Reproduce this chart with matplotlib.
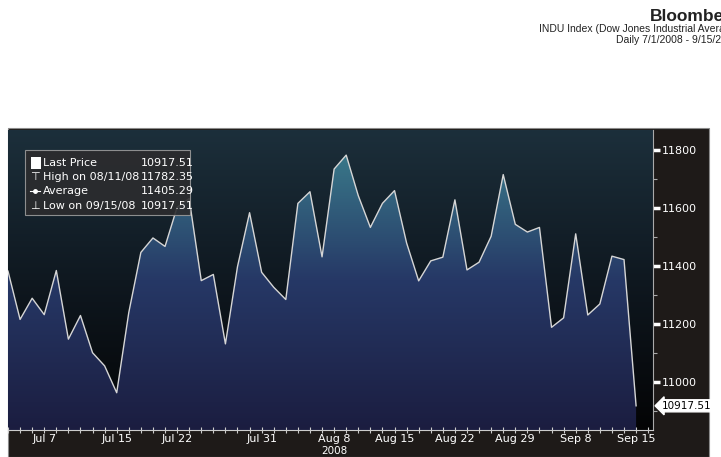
import numpy as np
import matplotlib
matplotlib.use("Agg")
import matplotlib.pyplot as plt
from matplotlib.patches import Polygon, Rectangle
from matplotlib.colors import LinearSegmentedColormap

# Dow Jones, cours de clôture journaliers 1/7/2008 - 15/9/2008
dates = ["07/01", "07/02", "07/03", "07/07", "07/08", "07/09", "07/10", "07/11",
         "07/14", "07/15", "07/16", "07/17", "07/18", "07/21", "07/22", "07/23",
         "07/24", "07/25", "07/28", "07/29", "07/30", "07/31",
         "08/01", "08/04", "08/05", "08/06", "08/07", "08/08", "08/11", "08/12",
         "08/13", "08/14", "08/15", "08/18", "08/19", "08/20", "08/21", "08/22",
         "08/25", "08/26", "08/27", "08/28", "08/29",
         "09/02", "09/03", "09/04", "09/05", "09/08", "09/09", "09/10", "09/11",
         "09/12", "09/15"]
closes = [11382.26, 11215.51, 11288.53, 11231.96, 11384.21, 11147.44, 11229.02, 11100.54,
          11055.19, 10962.54, 11239.28, 11446.66, 11496.57, 11467.34, 11602.50, 11632.38,
          11349.28, 11370.69, 11131.08, 11397.56, 11583.69, 11378.02,
          11326.32, 11284.15, 11615.77, 11656.07, 11431.43, 11734.32, 11782.35, 11642.47,
          11532.96, 11615.93, 11659.90, 11479.39, 11348.55, 11417.43, 11430.21, 11628.06,
          11386.25, 11412.87, 11502.51, 11715.18, 11543.55,
          11516.92, 11532.88, 11188.23, 11220.96, 11510.74, 11230.73, 11268.92, 11433.71,
          11421.99, 10917.51]
tick_dates = ["07/07", "07/15", "07/22", "07/31", "08/08", "08/15", "08/22", "08/29", "09/08", "09/15"]
tick_labels = ["Jul 7", "Jul 15", "Jul 22", "Jul 31", "Aug 8", "Aug 15", "Aug 22", "Aug 29", "Sep 8", "Sep 15"]
y_ticks = [11000, 11200, 11400, 11600, 11800]

legend_rows = [("Last Price", "10917.51"), ("High on 08/11/08", "11782.35"),
               ("Average", "11405.29"), ("Low on 09/15/08", "10917.51")]

W, H = 721, 457
fig = plt.figure(figsize=(W / 100, H / 100), dpi=100)
fig.patch.set_facecolor("white")

def fx(px):
    return px / W

def fy(py):
    return 1 - py / H

# fond sombre du graphique
fig.patches.append(Rectangle((fx(8), 0), fx(709) - fx(8), fy(128), transform=fig.transFigure,
                             facecolor="#1e1a18", edgecolor="#8a8a8a", lw=0.8, zorder=-5))

ax = fig.add_axes([fx(8), fy(430), fx(653) - fx(8), fy(130) - fy(430)])
ax.set_facecolor("none")

x = np.arange(len(closes))
xmax = 53.4
ymin, ymax = 10834, 11869

bg_cmap = LinearSegmentedColormap.from_list("bg", ["#040405", "#0f1820", "#1c2f3b"])
fill_cmap = LinearSegmentedColormap.from_list("fl", ["#1b1d40", "#263866", "#3d8490"])
grad = np.linspace(0, 1, 256).reshape(-1, 1)

ax.imshow(grad, cmap=bg_cmap, origin="lower", aspect="auto",
          extent=[0, xmax, ymin, ymax], zorder=0)
im = ax.imshow(grad, cmap=fill_cmap, origin="lower", aspect="auto",
               extent=[0, xmax, ymin, ymax], zorder=1)
verts = [(0, ymin)] + list(zip(x, closes)) + [(x[-1], ymin)]
poly = Polygon(verts, closed=True, facecolor="none", edgecolor="none", transform=ax.transData)
ax.add_patch(poly)
im.set_clip_path(poly)

ax.plot(x, closes, color="#d6d6d6", lw=1.0, zorder=3)

ax.set_xlim(0, xmax)
ax.set_ylim(ymin, ymax)

# axe x
ax.set_xticks(np.arange(0, 54))
ax.set_xticklabels([])
ax.tick_params(axis="x", direction="inout", length=4, width=0.8, color="#cccccc")
for d, lab in zip(tick_dates, tick_labels):
    i = dates.index(d)
    ax.text(i, -0.03, lab, transform=ax.get_xaxis_transform(), ha="center", va="center",
            color="white", fontsize=8)
ax.text(dates.index("08/08"), -0.07, "2008", transform=ax.get_xaxis_transform(),
        ha="center", va="center", color="white", fontsize=7.5)

# axe y à droite
ax.yaxis.tick_right()
ax.set_yticks(y_ticks)
ax.set_yticklabels([str(v) for v in y_ticks], color="white", fontsize=8)
ax.set_yticks(np.arange(10900, 11900, 200), minor=True)
ax.tick_params(axis="y", which="major", direction="out", length=5, width=2.5, color="white", pad=1)
ax.tick_params(axis="y", which="minor", direction="out", length=3, width=0.8, color="#aaaaaa")

for s in ["top", "left"]:
    ax.spines[s].set_visible(False)
ax.spines["bottom"].set_color("#cccccc")
ax.spines["right"].set_color("#aaaaaa")

# étiquette du dernier prix
ax.annotate(f"{closes[-1]:.2f}", xy=(1.0, closes[-1]), xycoords=("axes fraction", "data"),
            xytext=(1.013, closes[-1]), textcoords=("axes fraction", "data"),
            ha="left", va="center", fontsize=7.5, color="black",
            bbox=dict(boxstyle="larrow,pad=0.1", fc="white", ec="white"))

# légende
fig.patches.append(Rectangle((fx(25), fy(215)), fx(190) - fx(25), fy(150) - fy(215),
                             transform=fig.transFigure, facecolor="#2c2c2e", alpha=0.9,
                             edgecolor="#9a9a9a", lw=0.8, zorder=5))
row_y = [163, 177, 191, 206]
for (lab, val), ry in zip(legend_rows, row_y):
    fig.text(fx(43), fy(ry), lab, color="white", fontsize=8, va="center", zorder=6)
    fig.text(fx(141), fy(ry), val, color="white", fontsize=8, va="center", zorder=6)
fig.patches.append(Rectangle((fx(31), fy(169)), fx(41) - fx(31), fy(157) - fy(169),
                             transform=fig.transFigure, facecolor="white", zorder=6))
fig.text(fx(35), fy(177), "\u22a4", color="white", fontsize=8, ha="center", va="center", zorder=6)
fig.lines.append(plt.Line2D([fx(30), fx(40)], [fy(191), fy(191)], transform=fig.transFigure,
                            color="white", lw=0.8, zorder=6))
fig.lines.append(plt.Line2D([fx(35)], [fy(191)], transform=fig.transFigure, linestyle="none",
                            color="white", marker="o", markersize=2.5, zorder=6))
fig.text(fx(35), fy(206), "\u22a5", color="white", fontsize=8, ha="center", va="center", zorder=6)

# en-tête (coupé à droite comme sur l'original)
fig.text(fx(742), fy(16), "Bloomberg", ha="right", va="center", fontsize=12.5,
         fontweight="bold", family="Liberation Sans", color="#222222")
fig.text(fx(740), fy(29), "INDU Index (Dow Jones Industrial Average)", ha="right", va="center",
         fontsize=7.5, family="Liberation Sans", color="#222222")
fig.text(fx(738), fy(40), "Daily 7/1/2008 - 9/15/2008", ha="right", va="center",
         fontsize=7.5, family="Liberation Sans", color="#222222")

fig.savefig("out.png", dpi=100)
